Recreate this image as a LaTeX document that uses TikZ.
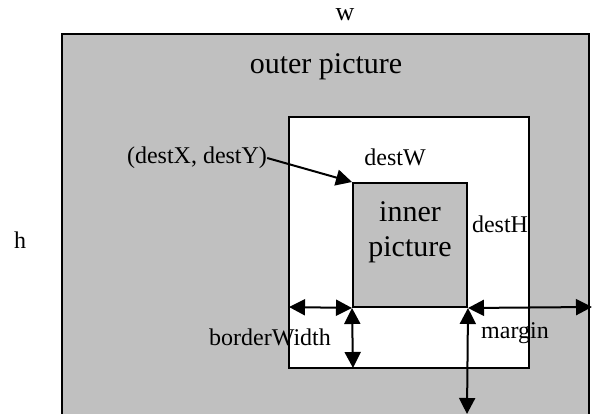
\documentclass[tikz,border=0pt]{standalone}
\usepackage{fontspec}
\setmainfont{Liberation Serif}
\usetikzlibrary{arrows.meta}
\definecolor{pgray}{RGB}{192,192,192}
\begin{document}
\begin{tikzpicture}[x=1pt,y=-1pt,
  edge/.style={draw=black,line width=2pt},
  lbl/.style={font=\fontsize{24}{28}\selectfont, inner sep=0pt},
  big/.style={font=\fontsize{30}{35}\selectfont, inner sep=0pt, align=center},
  dimarrow/.style={line width=2pt, {Triangle[length=16pt,width=16pt]}-{Triangle[length=16pt,width=16pt]}},
  onearrow/.style={line width=2pt, -{Triangle[length=16pt,width=16pt]}}]
\useasboundingbox (0,0) rectangle (592,414);
% outer picture
\fill[pgray] (62,34) rectangle (589,414);
\draw[edge] (62,414) -- (62,34) -- (589,34) -- (589,414);
% white area and inner picture
\node[edge, fill=white, minimum width=240pt, minimum height=251pt, inner sep=0pt] (wbox) at (409,242.5) {};
\node[edge, fill=pgray, minimum width=114pt, minimum height=124pt, inner sep=0pt] (ibox) at (410,245) {};
% labels
\node[lbl, font=\fontsize{26}{30}\selectfont] (w) at (345,15) {w};
\node[big] (outer) at (326,67) {outer picture};
\node[lbl] (h) at (20,240) {h};
\node[big] (inner) at (410,232) {inner\\picture};
\node[lbl] (destW) at (395,157) {destW};
\node[lbl] (destH) at (500,224) {destH};
\node[lbl] (destXY) at (197,158) {(destX, destY)};
\node[lbl] (bw) at (270,337) {borderWidth};
\node[lbl] (margin) at (515,333) {margin};
% coordinates for dimension arrows
\coordinate (wl) at (289,307);
\coordinate (wr) at (592,307);
\coordinate (wb) at (353,368);
\coordinate (bot) at (467,414);
% arrows
\draw[onearrow] (destXY.east) -- (ibox.north west);
\draw[dimarrow] (wl) -- (ibox.south west);
\draw[dimarrow] (ibox.south west) -- (wb);
\draw[dimarrow] (ibox.south east) -- (wr);
\draw[dimarrow] (ibox.south east) -- (bot);
\end{tikzpicture}
\end{document}
